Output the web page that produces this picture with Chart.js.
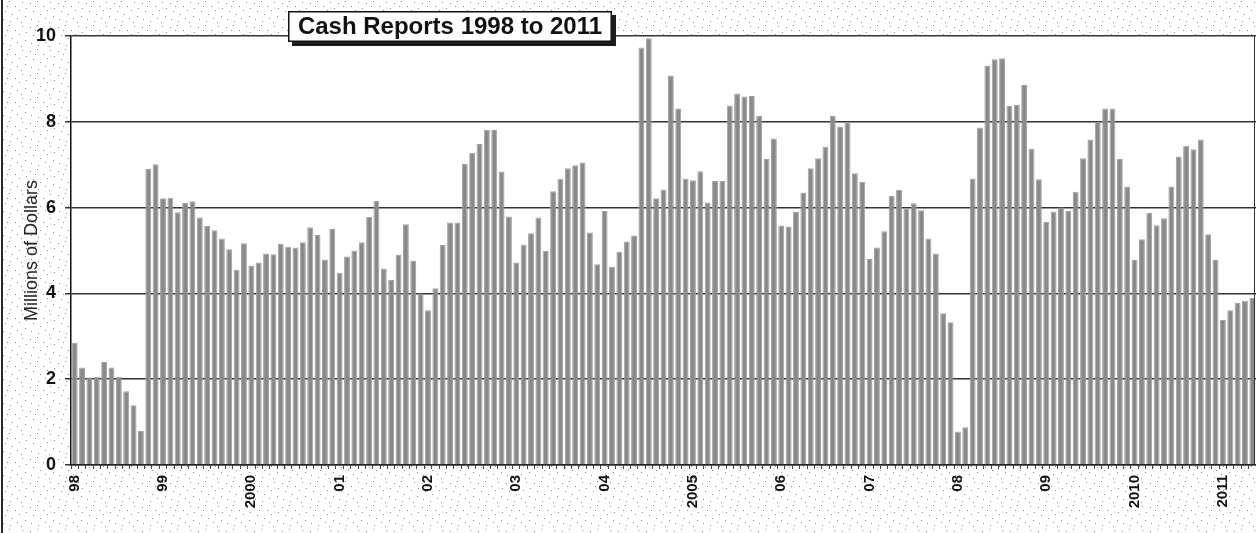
<!DOCTYPE html>
<html>
<head>
<meta charset="utf-8">
<title>Cash Reports 1998 to 2011</title>
<script src="https://cdn.jsdelivr.net/npm/chart.js@4/dist/chart.umd.min.js"></script>
<style>
  html, body { margin: 0; padding: 0; background: #fff; }
  #wrap { width: 1256px; height: 533px; position: relative; overflow: hidden; }
</style>
</head>
<body>
<div id="wrap"><canvas id="cashChart"></canvas></div>
<script>
// monthly cash reports, millions of dollars
const yearLabels = ['98', '99', '2000', '01', '02', '03', '04', '2005', '06', '07', '08', '09', '2010', '2011'];

const cash1998 = [2.85, 2.27, 2.04, 2.06, 2.40, 2.27, 2.06, 1.72, 1.39, 0.79, 6.90, 7.01];
const cash1999 = [6.22, 6.23, 5.89, 6.11, 6.15, 5.77, 5.57, 5.47, 5.28, 5.03, 4.55, 5.17];
const cash2000 = [4.64, 4.72, 4.93, 4.91, 5.15, 5.09, 5.07, 5.19, 5.54, 5.36, 4.79, 5.50];
const cash2001 = [4.48, 4.86, 5.00, 5.19, 5.78, 6.16, 4.58, 4.31, 4.90, 5.61, 4.76, 4.00];
const cash2002 = [3.61, 4.12, 5.13, 5.65, 5.65, 7.02, 7.27, 7.48, 7.81, 7.81, 6.84, 5.79];
const cash2003 = [4.72, 5.14, 5.40, 5.77, 4.99, 6.38, 6.67, 6.92, 6.99, 7.05, 5.42, 4.68];
const cash2004 = [5.92, 4.62, 4.97, 5.21, 5.35, 9.73, 9.95, 6.22, 6.42, 9.08, 8.31, 6.68];
const cash2005 = [6.64, 6.85, 6.12, 6.62, 6.62, 8.38, 8.66, 8.59, 8.60, 8.14, 7.13, 7.61];
const cash2006 = [5.58, 5.56, 5.91, 6.35, 6.92, 7.15, 7.42, 8.14, 7.89, 7.99, 6.80, 6.60];
const cash2007 = [4.80, 5.07, 5.45, 6.27, 6.41, 5.98, 6.10, 5.94, 5.28, 4.93, 3.54, 3.33];
const cash2008 = [0.78, 0.88, 6.68, 7.87, 9.30, 9.46, 9.48, 8.37, 8.39, 8.86, 7.37, 6.66];
const cash2009 = [5.67, 5.91, 6.00, 5.92, 6.37, 7.15, 7.59, 8.00, 8.31, 8.31, 7.13, 6.49];
const cash2010 = [4.78, 5.26, 5.88, 5.59, 5.75, 6.49, 7.19, 7.44, 7.36, 7.59, 5.38, 4.78];
const cash2011 = [3.38, 3.61, 3.78, 3.83, 3.89];

const cashValues = [].concat(cash1998, cash1999, cash2000, cash2001, cash2002, cash2003, cash2004,
  cash2005, cash2006, cash2007, cash2008, cash2009, cash2010, cash2011);
// only January carries the year label
const categories = cashValues.map((v, i) => (i % 12 === 0 ? yearLabels[i / 12] : ''));

const FONT = '"Liberation Sans", Arial, sans-serif';

// small dotted tile for the paper-like backdrop
function stippleTile() {
  const c = document.createElement('canvas');
  c.width = 28; c.height = 24;
  const g = c.getContext('2d');
  g.fillStyle = '#ffffff';
  g.fillRect(0, 0, 28, 24);
  g.fillStyle = '#8c8c8c';
  [[2, 3], [9, 1], [15, 6], [22, 2], [5, 11], [12, 14], [19, 10], [25, 16],
   [3, 19], [10, 21], [17, 18], [26, 8], [7, 6], [21, 22]].forEach(([x, y]) => g.fillRect(x, y, 1, 1));
  return c;
}

const framePlugin = {
  id: 'frame',
  beforeDraw(chart) {
    const { ctx, chartArea: a, width, height } = chart;
    ctx.save();
    ctx.fillStyle = ctx.createPattern(stippleTile(), 'repeat');
    ctx.fillRect(0, 0, width, height);
    ctx.fillStyle = '#ffffff';
    ctx.fillRect(a.left, a.top, a.right - a.left, a.bottom - a.top);
    ctx.fillStyle = '#2a2a2a';
    ctx.fillRect(1, 0, 2, height);
    ctx.restore();
  },
  afterDraw(chart) {
    const { ctx, chartArea: a } = chart;
    ctx.save();
    // right edge of the plot
    ctx.strokeStyle = '#333';
    ctx.lineWidth = 1;
    ctx.beginPath();
    ctx.moveTo(a.right - 1.5, a.top);
    ctx.lineTo(a.right - 1.5, a.bottom);
    ctx.stroke();

    // boxed title with drop shadow
    const bx = 288, by = 11, bw = 324, bh = 31;
    ctx.fillStyle = '#1c1c1c';
    ctx.fillRect(bx + 4, by + 4, bw, bh);
    ctx.fillStyle = '#ffffff';
    ctx.fillRect(bx, by, bw, bh);
    ctx.strokeStyle = '#111';
    ctx.lineWidth = 1.5;
    ctx.strokeRect(bx + 0.75, by + 0.75, bw - 1.5, bh - 1.5);
    ctx.fillStyle = '#111';
    ctx.font = 'bold 24px ' + FONT;
    ctx.textAlign = 'center';
    ctx.textBaseline = 'middle';
    ctx.fillText('Cash Reports 1998 to 2011', bx + bw / 2, by + bh / 2 + 1);
    ctx.restore();
  }
};

new Chart(document.getElementById('cashChart'), {
  type: 'bar',
  data: {
    labels: categories,
    datasets: [{
      data: cashValues,
      backgroundColor: '#8a8a8a',
      borderColor: '#a2a2a2',
      borderWidth: 1,
      barPercentage: 0.8,
      categoryPercentage: 1.0
    }]
  },
  options: {
    responsive: true,
    maintainAspectRatio: false,
    animation: false,
    layout: { padding: { left: 0, right: 0, top: 36, bottom: 0 } },
    plugins: {
      legend: { display: false },
      tooltip: { enabled: false }
    },
    scales: {
      x: {
        afterFit(scale) {
          scale.height = 68;
          scale.paddingLeft = 0;
          scale.paddingRight = 0;
        },
        grid: { drawOnChartArea: false, drawTicks: true, tickLength: 4, color: '#444', lineWidth: 1 },
        border: { display: true, color: '#222', width: 1.5 },
        ticks: {
          autoSkip: false,
          minRotation: 90,
          maxRotation: 90,
          padding: 6,
          color: '#111',
          font: { family: FONT, size: 15, weight: 'bold' }
        }
      },
      y: {
        min: 0,
        max: 10,
        afterFit(scale) { scale.width = 71; },
        grid: { color: '#333', lineWidth: 1.5, drawTicks: true, tickLength: 6 },
        border: { display: true, color: '#111', width: 1.5 },
        ticks: {
          stepSize: 2,
          padding: 9,
          color: '#111',
          font: { family: FONT, size: 18, weight: 'bold' }
        },
        title: {
          display: true,
          text: 'Millions of Dollars',
          color: '#222',
          padding: { top: 21, bottom: 0 },
          font: { family: FONT, size: 18 }
        }
      }
    }
  },
  plugins: [framePlugin]
});
</script>
</body>
</html>
